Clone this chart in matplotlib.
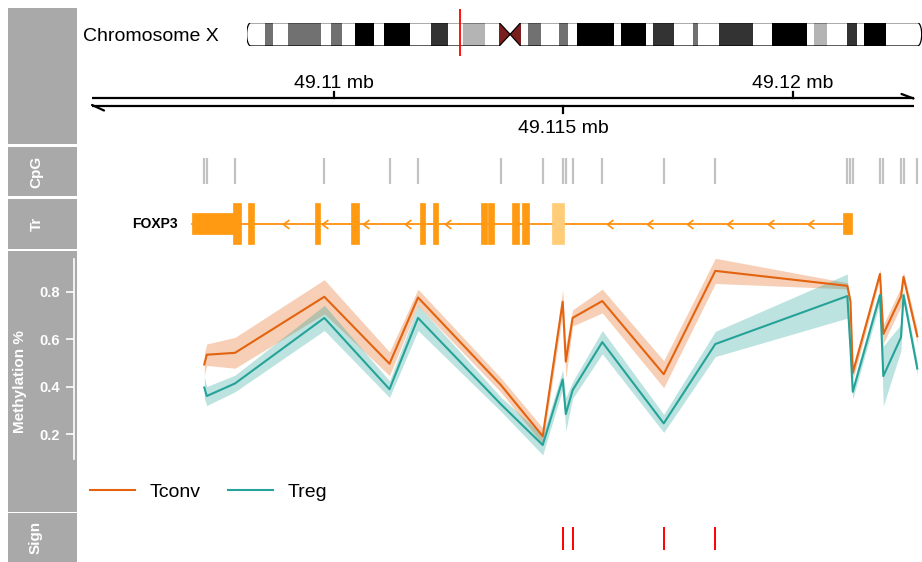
import numpy as np
import matplotlib
matplotlib.use("Agg")
import matplotlib.pyplot as plt
from matplotlib.patches import Rectangle, PathPatch
from matplotlib.path import Path

plt.rcParams['font.family'] = ['Liberation Sans', 'DejaVu Sans']

# ---------------- data ----------------
chrom_name = "Chromosome X"
chrom_len = 155.27  # Mb
band_start = [0.0, 4.3, 6.0, 9.5, 17.1, 19.3, 21.9, 24.9, 29.3, 31.5, 37.6, 42.4, 46.4, 49.8, 54.8,
              58.1, 60.6, 63.0, 64.6, 67.8, 71.8, 73.9, 76.0, 84.6, 86.2, 91.8, 93.5, 98.3, 102.6,
              103.7, 108.7, 116.5, 120.9, 128.8, 130.4, 133.6, 138.0, 140.3, 142.1, 147.1]
band_end = band_start[1:] + [155.27]
band_stain = ['gneg', 'gpos50', 'gneg', 'gpos50', 'gneg', 'gpos50', 'gneg', 'gpos100', 'gneg', 'gpos100',
              'gneg', 'gpos75', 'gneg', 'gpos25', 'gneg', 'acen', 'acen', 'gneg', 'gpos50', 'gneg',
              'gpos50', 'gneg', 'gpos100', 'gneg', 'gpos100', 'gneg', 'gpos75', 'gneg', 'gpos50', 'gneg',
              'gpos75', 'gneg', 'gpos100', 'gneg', 'gpos25', 'gneg', 'gpos75', 'gneg', 'gpos100', 'gneg']
centromere = (58.1, 60.6, 63.0)

view_start, view_end = 49104477, 49122821
axis_from, axis_to = 49104739, 49122636
axis_ticks = [49110000, 49115000, 49120000]
axis_tick_labels = ["49.11 mb", "49.115 mb", "49.12 mb"]

cpg_pos = [49107185, 49107238, 49107854, 49109800, 49111220, 49111841, 49113649, 49114558,
           49114993, 49115061, 49115209, 49115856, 49117194, 49118318, 49121194, 49121263,
           49121313, 49121906, 49121978, 49122363, 49122418, 49122718]

gene_name = "FOXP3"
exon_start = [49106911, 49107804, 49108131, 49109597, 49110381, 49111884, 49112168, 49113207,
              49113372, 49113882, 49114113, 49114754, 49121106]
exon_end = [49107817, 49107978, 49108268, 49109706, 49110556, 49112000, 49112283, 49113338,
            49113490, 49114041, 49114253, 49115015, 49121296]
exon_kind = ['utr', 'cds', 'cds', 'cds', 'cds', 'cds', 'cds', 'cds', 'cds', 'cds', 'cds', 'light', 'utr']
strand_arrows = [49108906, 49109743, 49110649, 49111558, 49112429, 49115952, 49116823, 49117695,
                 49118566, 49119473, 49120344]

groups = ["Tconv", "Treg"]
tconv = [0.494, 0.535, 0.543, 0.779, 0.497, 0.776, 0.407, 0.192, 0.758, 0.506, 0.690, 0.761,
         0.453, 0.888, 0.825, 0.758, 0.458, 0.875, 0.622, 0.779, 0.863, 0.613]
tconv_se = [0.045, 0.045, 0.065, 0.072, 0.050, 0.035, 0.030, 0.035, 0.050, 0.070, 0.034, 0.050,
            0.057, 0.053, 0.013, 0.020, 0.030, 0.020, 0.040, 0.040, 0.020, 0.030]
treg = [0.397, 0.361, 0.414, 0.690, 0.390, 0.690, 0.326, 0.155, 0.431, 0.285, 0.386, 0.588,
        0.246, 0.580, 0.782, 0.560, 0.379, 0.786, 0.445, 0.608, 0.786, 0.477]
treg_se = [0.045, 0.040, 0.035, 0.053, 0.035, 0.053, 0.030, 0.042, 0.040, 0.070, 0.035, 0.049,
           0.038, 0.053, 0.093, 0.050, 0.030, 0.030, 0.126, 0.055, 0.025, 0.030]
meth_ticks = [0.2, 0.4, 0.6, 0.8]
meth_ylim = (0.096, 0.938)

sign_pos = [49114993, 49115209, 49117194, 49118318]

track_titles = ["", "CpG", "Tr", "Methylation %", "Sign"]

# ---------------- style ----------------
W, H = 922, 562
fig = plt.figure(figsize=(W / 100, H / 100), dpi=100)
PANEL = '#A9A9A9'
C_TCONV = '#E3630F'
C_TREG = '#25A399'
stain_col = {'gneg': 'white', 'gpos25': '#B4B4B4', 'gpos50': '#717171', 'gpos75': '#333333',
             'gpos100': 'black', 'acen': '#7B1E1E'}


def px_axes(x0, y0, x1, y1, **kw):
    return fig.add_axes([x0 / W, 1 - y1 / H, (x1 - x0) / W, (y1 - y0) / H], **kw)


def clean(ax):
    ax.set_facecolor('none')
    for s in ax.spines.values():
        s.set_visible(False)
    ax.set_xticks([])
    ax.set_yticks([])


# background / title panels
bg = px_axes(0, 0, W, H)
bg.set_zorder(-5)
bg.set_xlim(0, W)
bg.set_ylim(H, 0)
bg.axis('off')
rows = [(7.5, 144), (147, 196), (198.5, 249), (251, 511.5), (513, 562)]
title_x = [36, 36, 37, 19.7, 35.5]
for (y0, y1), t, tx in zip(rows, track_titles, title_x):
    bg.add_patch(Rectangle((8.3, y0), 69, y1 - y0, facecolor=PANEL, edgecolor='none'))
    if t:
        bg.text(tx, (y0 + y1) / 2, t, rotation=90, ha='center', va='center', color='white',
                fontsize=11, fontweight='bold')
bg.text(83, 40.7, chrom_name, ha='left', va='baseline', fontsize=14)

# ---------------- ideogram ----------------
axi = px_axes(246.7, 22.7, 921.7, 46)
clean(axi)
axi.set_xlim(0, chrom_len)
axi.set_ylim(0, 1)
cap = 0.95
t = np.linspace(np.pi / 2, 3 * np.pi / 2, 20)
left = list(zip(cap + cap * np.cos(t), 0.5 + 0.5 * np.sin(t)))      # top -> bottom
t2 = np.linspace(-np.pi / 2, np.pi / 2, 20)
right = list(zip(chrom_len - cap + cap * np.cos(t2), 0.5 + 0.5 * np.sin(t2)))  # bottom -> top
cs, cm, ce = centromere
verts = [(cap, 1), (cs, 1), (cm, 0.5), (ce, 1)]
verts += right[::-1]
verts += [(ce, 0), (cm, 0.5), (cs, 0)]
verts += left[::-1]
outline = Path(verts, closed=True)
clip = PathPatch(outline, facecolor='none', edgecolor='none', transform=axi.transData)
axi.add_patch(clip)
for s, e, st in zip(band_start, band_end, band_stain):
    r = Rectangle((s, 0), e - s, 1, facecolor=stain_col[st], edgecolor='none')
    axi.add_patch(r)
    r.set_clip_path(clip)
axi.add_patch(PathPatch(outline, facecolor='none', edgecolor='black', lw=0.9,
                        transform=axi.transData))
mid = (view_start + view_end) / 2 / 1e6
axi.plot([mid, mid], [1.6, -0.42], color='red', lw=1.3, clip_on=False, solid_capstyle='butt')

# ---------------- genome axis ----------------
axa = px_axes(80, 60, 922, 144)
clean(axa)
axa.set_xlim(view_start, view_end)
axa.set_ylim(144, 60)
axa.plot([axis_from, axis_to], [98, 98], color='black', lw=1.6, solid_capstyle='butt')
axa.plot([axis_from, axis_to], [105.5, 105.5], color='black', lw=1.6, solid_capstyle='butt')
axa.annotate('', xy=(axis_to, 98.5), xytext=(-12, 4.5), textcoords='offset pixels',
             arrowprops=dict(arrowstyle='-', lw=1.6, color='black', shrinkA=0, shrinkB=0))
axa.annotate('', xy=(axis_from, 105), xytext=(12, -5.5), textcoords='offset pixels',
             arrowprops=dict(arrowstyle='-', lw=1.6, color='black', shrinkA=0, shrinkB=0))
for i, (p, lab) in enumerate(zip(axis_ticks, axis_tick_labels)):
    if i % 2 == 0:
        axa.plot([p, p], [91.5, 98], color='black', lw=1.6)
        axa.text(p, 88.5, lab, ha='center', va='baseline', fontsize=14)
    else:
        axa.plot([p, p], [105.5, 113], color='black', lw=1.6)
        axa.text(p, 132.7, lab, ha='center', va='baseline', fontsize=14)

# ---------------- CpG ----------------
axc = px_axes(80, 147, 922, 196)
clean(axc)
axc.set_xlim(view_start, view_end)
axc.set_ylim(196, 147)
axc.vlines(cpg_pos, 158.3, 184.3, color='#C2C2C2', lw=1.6)

# ---------------- transcript ----------------
axt = px_axes(80, 198, 922, 249)
clean(axt)
axt.set_xlim(view_start, view_end)
axt.set_ylim(249, 198)
ymid = 223.7
axt.plot([exon_start[0], exon_start[-1]], [ymid, ymid], color='#FF9010', lw=1.3, zorder=1)
arrow_marker = Path([(1, 0.75), (0, 0), (1, -0.75)], [Path.MOVETO, Path.LINETO, Path.LINETO])
axt.plot(strand_arrows, [ymid] * len(strand_arrows), linestyle='none', marker=arrow_marker,
         markersize=8.5, markerfacecolor='none', markeredgecolor='#FF9010', markeredgewidth=1.2)
half = {'utr': 10.3, 'cds': 20.4, 'light': 20.4}
fillc = {'utr': '#FF9A12', 'cds': '#FF9A12', 'light': '#FFCC78'}
for s, e, k in zip(exon_start, exon_end, exon_kind):
    axt.add_patch(Rectangle((s, ymid - half[k]), e - s, 2 * half[k], facecolor=fillc[k],
                            edgecolor=fillc[k], lw=0.5, zorder=2))
axt.annotate(gene_name, xy=(exon_start[0], ymid), xytext=(-13.5, 0), textcoords='offset pixels',
             ha='right', va='center', fontsize=10, fontweight='bold')

# ---------------- methylation ----------------
axm = px_axes(80, 259, 922, 459)
axm.set_facecolor('none')
axm.set_xlim(view_start, view_end)
axm.set_ylim(*meth_ylim)
for s in ['top', 'right', 'bottom']:
    axm.spines[s].set_visible(False)
axm.spines['left'].set_position(('outward', 4.5))
axm.spines['left'].set_color('white')
axm.spines['left'].set_linewidth(1.2)
axm.spines['left'].set_bounds(*meth_ylim)
axm.set_xticks([])
axm.set_yticks(meth_ticks)
axm.tick_params(axis='y', colors='white', length=5.8, width=1.2, pad=4.0, labelsize=10.5)
for lab in axm.get_yticklabels():
    lab.set_fontweight('bold')
x = np.array(cpg_pos)
for vals, se, col in [(tconv, tconv_se, C_TCONV), (treg, treg_se, C_TREG)]:
    v = np.array(vals)
    e = np.array(se)
    axm.fill_between(x, v - e, v + e, color=col, alpha=0.3, lw=0)
handles = []
for vals, col, name in [(tconv, C_TCONV, groups[0]), (treg, C_TREG, groups[1])]:
    ln, = axm.plot(x, vals, color=col, lw=1.5, label=name)
    handles.append(ln)
axm.legend(handles=handles, loc='center left', bbox_to_anchor=(90 / W, 1 - 492 / H),
           bbox_transform=fig.transFigure, ncol=2, frameon=False, borderpad=0, borderaxespad=0,
           handlelength=2.31, handletextpad=0.77, columnspacing=1.39, fontsize=14)

# ---------------- significance ----------------
axs = px_axes(80, 513, 922, 562)
clean(axs)
axs.set_xlim(view_start, view_end)
axs.set_ylim(562, 513)
axs.vlines(sign_pos, 527, 550, color='#FF0000', lw=1.4)

fig.savefig('out.png', dpi=100)
